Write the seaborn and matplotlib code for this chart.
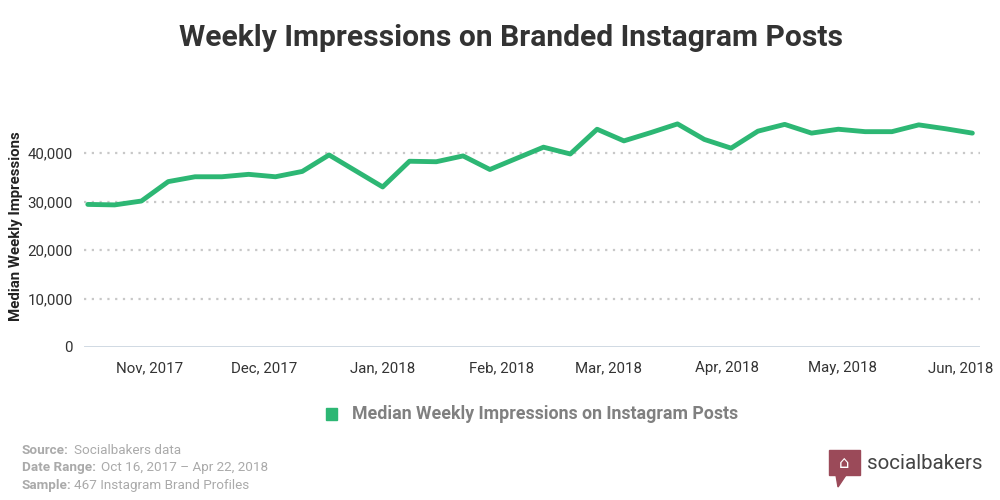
import pandas as pd
import seaborn as sns
import matplotlib.pyplot as plt
import matplotlib.dates as mdates
from matplotlib.patches import Rectangle, Polygon

# Weekly medians (weeks starting Oct 16, 2017)
week_start = "2017-10-16"
n_weeks = 34
impressions = [
    29400, 29300, 30100, 34100, 35100, 35100, 35600, 35100, 36200, 39600,
    36300, 33000, 38300, 38200, 39400, 36600, 38900, 41200, 39800, 44900,
    42500, 44200, 46000, 42800, 41000, 44500, 45900, 44100, 44900, 44400,
    44400, 45800, 45000, 44100,
]
y_ticks = [0, 10000, 20000, 30000, 40000]
series_name = "Median Weekly Impressions on Instagram Posts"

green = "#2db774"

df = pd.DataFrame({
    "week": pd.date_range(week_start, periods=n_weeks, freq="7D"),
    "impressions": impressions,
})

sns.set_theme(style="white")
plt.rcParams["font.family"] = ["Roboto", "DejaVu Sans"]

fig = plt.figure(figsize=(10, 5), dpi=100)
ax = fig.add_axes([0.084, 0.306, 0.896, 0.485])

sns.lineplot(data=df, x="week", y="impressions", ax=ax, color=green,
             linewidth=3.5, legend=False)

ax.set_ylim(0, 50000)
ax.set_xlim(pd.Timestamp("2017-10-15"), pd.Timestamp("2018-06-06"))
ax.set_yticks(y_ticks)
ax.set_yticklabels([f"{v:,}" for v in y_ticks])
ax.xaxis.set_major_locator(mdates.MonthLocator())
ax.xaxis.set_major_formatter(mdates.DateFormatter("%b, %Y"))
ax.tick_params(axis="both", length=0, labelsize=10.8, colors="#333333", pad=8)
ax.tick_params(axis="x", pad=10)

for v in y_ticks[1:]:
    ax.axhline(v, color="#c8c8c8", linestyle=(0, (1, 2.5)), linewidth=1.6, zorder=0)
ax.axhline(0, color="#ccd6e0", linewidth=2, zorder=0)

for s in ax.spines.values():
    s.set_visible(False)

ax.set_xlabel("")
ax.set_ylabel("Median Weekly Impressions", fontsize=10.8, fontweight="bold",
              color="#222222")
ax.yaxis.set_label_coords(-0.068, 0.5)

fig.text(0.511, 0.924, "Weekly Impressions on Branded Instagram Posts",
         ha="center", va="center", fontsize=21.6, fontweight="bold", color="#333333")

# legend
fig.patches.append(Rectangle((0.326, 0.16), 0.011, 0.024, transform=fig.transFigure,
                             color=green))
fig.text(0.352, 0.172, series_name, ha="left", va="center", fontsize=12.8,
         fontweight="bold", color="#808080")

# footer notes
notes = [("Source:", "Socialbakers data"),
         ("Date Range:", "Oct 16, 2017 \u2013 Apr 22, 2018"),
         ("Sample:", "467 Instagram Brand Profiles")]
for i, (k, v) in enumerate(notes):
    y = 0.1 - i * 0.035
    fig.text(0.022, y, k, ha="left", va="center", fontsize=9.7,
             fontweight="bold", color="#aaaaaa")
    fig.text(0.022 + 0.0066 * len(k) + 0.006, y, v, ha="left", va="center",
             fontsize=9.7, color="#aaaaaa")

# socialbakers logo
fig.patches.append(Rectangle((0.829, 0.05), 0.031, 0.05, transform=fig.transFigure,
                             color="#9b4a59"))
fig.patches.append(Polygon([(0.836, 0.05), (0.846, 0.05), (0.838, 0.026)],
                           closed=True, transform=fig.transFigure, color="#9b4a59"))
fig.text(0.8445, 0.075, "\u2302", ha="center", va="center", fontsize=12, color="white",
         family="DejaVu Sans")
fig.text(0.867, 0.073, "socialbakers", ha="left", va="center", fontsize=14.8,
         color="#444444")

fig.savefig("out.png", dpi=100, facecolor="white")
